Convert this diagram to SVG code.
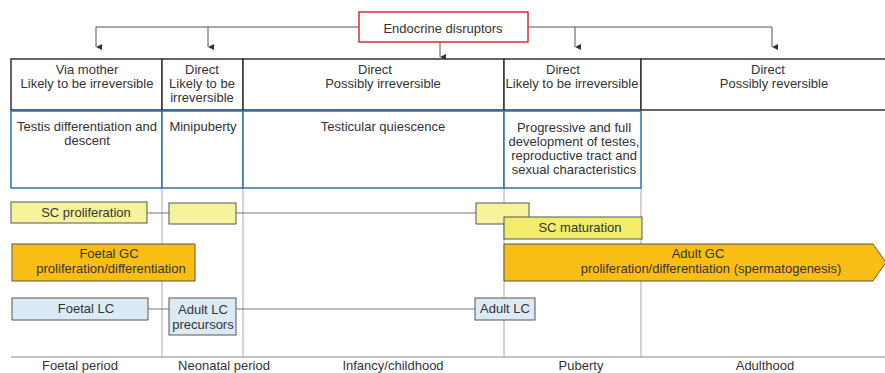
<svg xmlns="http://www.w3.org/2000/svg" width="885" height="373" viewBox="0 0 885 373">
<defs>
<marker id="ah" markerWidth="8" markerHeight="8" refX="4" refY="6" orient="auto" markerUnits="userSpaceOnUse" viewBox="0 0 8 8">
<path d="M1,0 L7,0 L4,6 Z" fill="#333"/>
</marker>
</defs>
<style>
text{font-family:"Liberation Sans",Arial,sans-serif;font-size:13px;fill:#333;text-anchor:middle}
.hdr{fill:#fff;stroke:#333;stroke-width:1.5}
.blu{fill:#fff;stroke:#2b72b4;stroke-width:1.5}
.vl{stroke:#aaa;stroke-width:1;fill:none}
.cn{stroke:#777;stroke-width:1;fill:none}
.ar{stroke:#555;stroke-width:1;fill:none}
.sc{fill:#f6f39c;stroke:#555;stroke-width:1}
.scm{fill:#f3ec6a;stroke:#555;stroke-width:1}
.gc{fill:#f9be14;stroke:#555;stroke-width:1}
.lc{fill:#dceaf6;stroke:#555;stroke-width:1}
</style>
<rect width="885" height="373" fill="#fff"/>
<g id="guides">
<line class="vl" x1="162" y1="188" x2="162" y2="357" stroke="#999"/>
<line class="vl" x1="243" y1="188" x2="243" y2="357" stroke="#ccc"/>
<line class="vl" x1="504" y1="188" x2="504" y2="357"/>
<line class="vl" x1="641" y1="188" x2="641" y2="357"/>
<line x1="11" y1="357" x2="885" y2="357" stroke="#888" stroke-width="1"/>
</g>
<g id="connectors">
<path class="ar" d="M359,27 H96 V47" marker-end="url(#ah)"/>
<path class="ar" d="M208,27 V47" marker-end="url(#ah)"/>
<path class="ar" d="M528,27 H772 V47" marker-end="url(#ah)"/>
<path class="ar" d="M575,27 V47" marker-end="url(#ah)"/>
<path class="ar" d="M440,42 V57" marker-end="url(#ah)"/>
<line class="cn" x1="147" y1="213" x2="169" y2="213"/>
<line class="cn" x1="236" y1="213" x2="476" y2="213"/>
<line class="cn" x1="148" y1="309" x2="169" y2="309"/>
<line class="cn" x1="236" y1="309" x2="475" y2="309"/>
</g>
<g id="endocrine">
<rect x="359" y="12" width="169" height="30" fill="#fff" stroke="#cf2f36" stroke-width="1.5"/>
<text x="443" y="33">Endocrine disruptors</text>
</g>
<g id="hdr-via-mother">
<rect class="hdr" x="11" y="59" width="151" height="51"/>
<text x="87" y="74">Via mother</text>
<text x="87" y="88">Likely to be irreversible</text>
</g>
<g id="hdr-neonatal">
<rect class="hdr" x="162" y="59" width="81" height="51"/>
<text x="202" y="74">Direct</text>
<text x="202" y="88">Likely to be</text>
<text x="202" y="102">irreversible</text>
</g>
<g id="hdr-infancy">
<rect class="hdr" x="243" y="59" width="261" height="51"/>
<text x="375" y="74">Direct</text>
<text x="383" y="88">Possibly irreversible</text>
</g>
<g id="hdr-puberty">
<rect class="hdr" x="504" y="59" width="137" height="51"/>
<text x="563" y="74">Direct</text>
<text x="572" y="88">Likely to be irreversible</text>
</g>
<g id="hdr-adult">
<path class="hdr" d="M885,59 H641 V110 H885"/>
<text x="768" y="74">Direct</text>
<text x="774" y="88">Possibly reversible</text>
</g>
<g id="testis">
<rect class="blu" x="11" y="111" width="151" height="77"/>
<text x="87" y="131">Testis differentiation and</text>
<text x="87" y="145">descent</text>
</g>
<g id="minipuberty">
<rect class="blu" x="162" y="111" width="81" height="77"/>
<text x="203" y="131">Minipuberty</text>
</g>
<g id="quiescence">
<rect class="blu" x="243" y="111" width="261" height="77"/>
<text x="383" y="131">Testicular quiescence</text>
</g>
<g id="progressive">
<rect class="blu" x="504" y="111" width="137" height="77"/>
<text x="574" y="132">Progressive and full</text>
<text x="574" y="146">development of testes,</text>
<text x="574" y="160">reproductive tract and</text>
<text x="574" y="174">sexual characteristics</text>
</g>
<g id="sc-prolif">
<rect class="sc" x="11" y="202" width="136" height="21"/>
<text x="86" y="217">SC proliferation</text>
</g>
<g id="sc-neonatal">
<rect class="sc" x="169" y="203" width="67" height="21"/>
</g>
<g id="sc-puberty">
<rect class="sc" x="476" y="203" width="53" height="21" fill="#f7f4a4"/>
</g>
<g id="sc-maturation">
<rect class="scm" x="504" y="217" width="138" height="22"/>
<text x="580" y="232">SC maturation</text>
</g>
<g id="foetal-gc">
<rect class="gc" x="12" y="244" width="183" height="37"/>
<text x="109" y="258">Foetal GC</text>
<text x="111" y="273">proliferation/differentiation</text>
</g>
<g id="adult-gc">
<path class="gc" d="M504,244 H873 L886,262.5 L873,281 H504 Z"/>
<text x="698" y="258">Adult GC</text>
<text x="711" y="273">proliferation/differentiation (spermatogenesis)</text>
</g>
<g id="foetal-lc">
<rect class="lc" x="12" y="298" width="136" height="22"/>
<text x="86" y="313">Foetal LC</text>
</g>
<g id="adult-lc-precursors">
<rect class="lc" x="169" y="298" width="67" height="37"/>
<text x="203" y="314">Adult LC</text>
<text x="203" y="329">precursors</text>
</g>
<g id="adult-lc">
<rect class="lc" x="475" y="298" width="60" height="22"/>
<text x="505" y="313">Adult LC</text>
</g>
<g id="periods">
<text x="80" y="370">Foetal period</text>
<text x="224" y="370">Neonatal period</text>
<text x="393" y="370">Infancy/childhood</text>
<text x="581" y="370">Puberty</text>
<text x="765" y="370">Adulthood</text>
</g>
</svg>
